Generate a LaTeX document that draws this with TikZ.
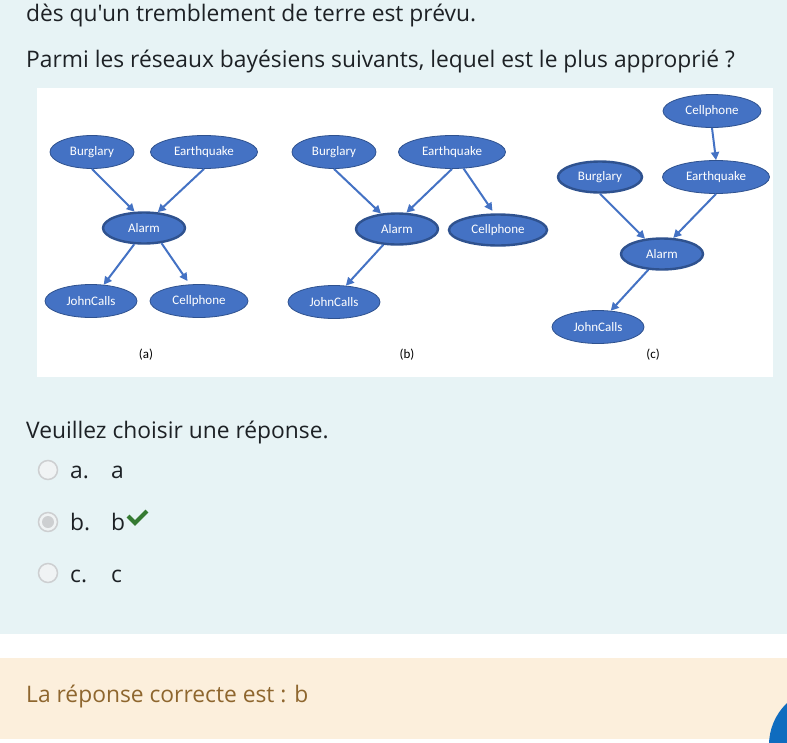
\documentclass[tikz,border=0pt]{standalone}
\usepackage{fontspec}
\setmainfont{Open Sans}[Ligatures=TeXOff]
\newfontfamily\carl{Carlito}
\usetikzlibrary{arrows.meta,shapes.geometric}
\definecolor{bgblue}{HTML}{E7F3F5}
\definecolor{nodefill}{HTML}{4472C4}
\definecolor{nodeedge}{HTML}{2F528F}
\definecolor{txt}{HTML}{1D2125}
\definecolor{beigebg}{HTML}{FCEFDC}
\definecolor{ansbrown}{HTML}{8E662E}
\definecolor{okgreen}{HTML}{357A32}
\definecolor{moodleblue}{HTML}{0F6CBF}
\definecolor{radioedge}{HTML}{CDCFD1}
\definecolor{radiofill}{HTML}{F0F3F4}
\begin{document}
\begin{tikzpicture}[x=1pt,y=-1pt,
  bn/.style={ellipse, fill=nodefill, draw=nodeedge, line width=0.8pt, inner sep=0pt,
    minimum height=33pt, text=white, font=\carl\fontsize{13}{15}\selectfont},
  thickrim/.style={line width=2.4pt, minimum height=31pt},
  wB/.style={minimum width=84pt},
  wE/.style={minimum width=107pt},
  wA/.style={minimum width=82pt},
  wJ/.style={minimum width=92pt},
  wC/.style={minimum width=98pt},
  arr/.style={draw=nodefill, line width=2pt, -{Triangle[length=8pt,width=8pt]}},
  body/.style={anchor=base west, inner sep=0pt, text=txt, font=\fontsize{22.8}{27}\selectfont},
  figcap/.style={inner sep=0pt, text=black, font=\carl\fontsize{13}{15}\selectfont},
  radio/.style={circle, draw=radioedge, fill=radiofill, line width=1.5pt, minimum size=19pt, inner sep=0pt}
]
\useasboundingbox (0,0) rectangle (787,742);
% backgrounds
\fill[white] (0,0) rectangle (787,742);
\fill[bgblue] (0,0) rectangle (787,634);
\fill[beigebg] (0,658) rectangle (787,739);
\fill[white] (37,88) rectangle (773,377);
\begin{scope}
\clip (0,0) rectangle (787,742);
\fill[moodleblue] (827,745) circle[radius=58];
\end{scope}

% question text
\node[body] (q1) at (26,21) {dès qu'un tremblement de terre est prévu.};
\node[body] (q2) at (26,67) {Parmi les réseaux bayésiens suivants, lequel est le plus approprié ?};

% ---------- (a) ----------
\node[bn,wB] (aB) at (92,152) {Burglary};
\node[bn,wE] (aE) at (204,152) {Earthquake};
\node[bn,wA,thickrim] (aA) at (144,228) {Alarm};
\node[bn,wJ] (aJ) at (91,301) {JohnCalls};
\node[bn,wC] (aC) at (199,301) {Cellphone};
\draw[arr] (aB.south) -- (aA.120);
\draw[arr] (aE.south) -- (aA.49);
\draw[arr] (aA.-121) -- (aJ.52);
\draw[arr, shorten >=4pt] (aA.-41) -- (aC.119);
\node[figcap] (la) at (146,355) {(a)};

% ---------- (b) ----------
\node[bn,wB] (bB) at (334,152) {Burglary};
\node[bn,wE] (bE) at (452,152) {Earthquake};
\node[bn,wA,thickrim] (bA) at (397,229) {Alarm};
\node[bn,wC,thickrim] (bC) at (498,230) {Cellphone};
\node[bn,wJ] (bJ) at (334,302) {JohnCalls};
\draw[arr] (bB.south) -- (bA.136);
\draw[arr] (bE.south) -- (bA.60);
\draw[arr, shorten >=3pt] (bE.-55) -- (bC.103);
\draw[arr] (bA.-131) -- (bJ.54);
\node[figcap] (lb) at (407,355) {(b)};

% ---------- (c) ----------
\node[bn,wC] (cC) at (712,111) {Cellphone};
\node[bn,wB,thickrim] (cB) at (600,177) {Burglary};
\node[bn,wE] (cE) at (716,177) {Earthquake};
\node[bn,wA,thickrim] (cA) at (662,254) {Alarm};
\node[bn,wJ] (cJ) at (598,327) {JohnCalls};
\draw[arr] (cC.south) -- (cE.north);
\draw[arr] (cB.south) -- (cA.138);
\draw[arr] (cE.south) -- (cA.55);
\draw[arr] (cA.-131) -- (cJ.52);
\node[figcap] (lc) at (653,355) {(c)};

% ---------- answers ----------
\node[body] (prompt) at (26,438) {Veuillez choisir une réponse.};
\node[radio] (ra) at (48,470) {};
\node[radio] (rb) at (48,522) {};
\node[radio] (rc) at (48,573) {};
\fill[radioedge] (rb.center) circle[radius=6];
\node[body] (oa) at (70,478) {a.};
\node[body] (ta) at (111,478) {a};
\node[body] (ob) at (70,530) {b.};
\node[body] (tb) at (111,530) {b};
\node[body] (oc) at (70,582) {c.};
\node[body] (tc) at (111,582) {c};
\draw[okgreen, line width=4pt, line join=miter] (128,516) -- (135,523) -- (147,511);

% ---------- feedback ----------
\node[body, text=ansbrown] (fb) at (26,702) {La réponse correcte est : b};
\end{tikzpicture}
\end{document}
